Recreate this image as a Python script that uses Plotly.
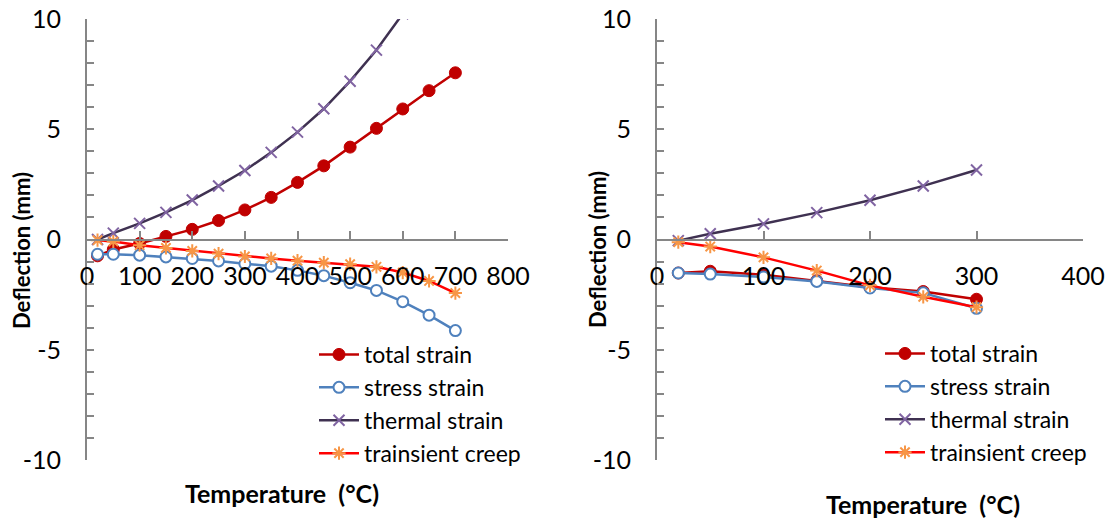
import plotly.graph_objects as go

# Temperatures (°C)
temp_a = [20, 50, 100, 150, 200, 250, 300, 350, 400, 450, 500, 550, 600, 650, 700]
temp_b = [20, 50, 100, 150, 200, 250, 300]

# Deflection (mm) - first case
total_a = [-0.74, -0.45, -0.18, 0.14, 0.46, 0.86, 1.34, 1.91, 2.59, 3.34, 4.19, 5.04, 5.92, 6.75, 7.56]
stress_a = [-0.67, -0.67, -0.71, -0.79, -0.86, -0.97, -1.10, -1.21, -1.40, -1.64, -1.96, -2.31, -2.82, -3.43, -4.13]
thermal_a = [0.0, 0.29, 0.73, 1.23, 1.79, 2.43, 3.13, 3.95, 4.87, 5.93, 7.18, 8.59, 10.24, 12.06, 14.10]
creep_a = [-0.03, -0.09, -0.26, -0.38, -0.52, -0.64, -0.77, -0.86, -0.96, -1.05, -1.12, -1.24, -1.50, -1.88, -2.43]

# Deflection (mm) - second case
total_b = [-1.52, -1.44, -1.60, -1.87, -2.17, -2.36, -2.71]
stress_b = [-1.52, -1.57, -1.70, -1.90, -2.20, -2.42, -3.12]
thermal_b = [-0.05, 0.26, 0.71, 1.22, 1.78, 2.43, 3.15]
creep_b = [-0.12, -0.32, -0.81, -1.41, -2.08, -2.60, -3.07]

series_names = ["total strain", "stress strain", "thermal strain", "trainsient creep"]
y_ticks = [-10, -5, 0, 5, 10]
y_tick_text = ["-10", "-5", "0", "5", "10"]

W, H = 1110, 519
FONT = "Lato, Carlito, Calibri, sans-serif"
AXIS_GREY = "#868686"

styles = [
    dict(line=dict(color="#C00000", width=2.5),
         marker=dict(symbol="circle", size=12, color="#C00000",
                     line=dict(color="#C00000", width=1))),
    dict(line=dict(color="#4F81BD", width=2.5),
         marker=dict(symbol="circle", size=11, color="white",
                     line=dict(color="#4F81BD", width=2))),
    dict(line=dict(color="#3F3151", width=2.5),
         marker=dict(symbol="x-thin-open", size=11, color="#8064A2",
                     line=dict(color="#8064A2", width=2))),
    dict(line=dict(color="#FF0000", width=2.5),
         marker=dict(symbol="asterisk-open", size=11, color="#F79646",
                     line=dict(color="#F79646", width=2))),
]

fig = go.Figure()

cases = [
    ("x", "y", "legend", temp_a, [total_a, stress_a, thermal_a, creep_a]),
    ("x2", "y2", "legend2", temp_b, [total_b, stress_b, thermal_b, creep_b]),
]
for xa, ya, lg, temps, values in cases:
    for name, vals, st in zip(series_names, values, styles):
        fig.add_trace(go.Scatter(
            x=temps, y=vals, name=name, mode="lines+markers",
            xaxis=xa, yaxis=ya, legend=lg,
            line=st["line"], marker=st["marker"], cliponaxis=True,
        ))


def px_x(p):
    return p / W


def px_y(p):
    return 1 - p / H


y_dom = [px_y(460), px_y(19)]
zero_pos = (y_dom[0] + y_dom[1]) / 2

common_x = dict(
    anchor="free", position=zero_pos, showline=True, linecolor=AXIS_GREY,
    linewidth=2, ticks="inside", ticklen=8, tickwidth=2, tickcolor=AXIS_GREY,
    dtick=100, tick0=0, showgrid=False, zeroline=False, automargin=False,
    tickfont=dict(family=FONT, size=25, color="black"),
    ticklabelstandoff=14,
)
common_y = dict(
    range=[-10, 10], domain=y_dom, showline=True, linecolor=AXIS_GREY,
    linewidth=2, ticks="inside", ticklen=7, tickwidth=2, tickcolor=AXIS_GREY,
    tickvals=y_ticks, ticktext=y_tick_text, showgrid=False, zeroline=False,
    automargin=False,
    minor=dict(dtick=1, ticks="inside", ticklen=7, tickwidth=2,
               tickcolor=AXIS_GREY, showgrid=False),
    tickfont=dict(family=FONT, size=25, color="black"),
    ticklabelstandoff=19,
)

legend_style = dict(xanchor="left", yanchor="top", bgcolor="rgba(0,0,0,0)",
                    font=dict(family=FONT, size=23), tracegroupgap=0,
                    itemwidth=40)

fig.update_layout(
    width=W, height=H,
    margin=dict(l=0, r=0, t=0, b=0, autoexpand=False),
    paper_bgcolor="white", plot_bgcolor="white",
    font=dict(family=FONT, size=24, color="black"),
    xaxis=dict(common_x, domain=[px_x(87), px_x(508)], range=[0, 800]),
    yaxis=dict(common_y, anchor="x"),
    xaxis2=dict(common_x, domain=[px_x(657), px_x(1083)], range=[0, 400]),
    yaxis2=dict(common_y, anchor="x2"),
    legend=dict(legend_style, x=px_x(314), y=px_y(333)),
    legend2=dict(legend_style, x=px_x(880), y=px_y(332)),
    showlegend=True,
)

title_font = dict(family=FONT, size=25, color="black", weight="bold")
annotations = [
    dict(text="Temperature  (°C)", x=px_x(282), y=px_y(493), font=title_font),
    dict(text="Temperature  (°C)", x=px_x(923), y=px_y(504), font=title_font),
    dict(text="Deflection (mm)", x=px_x(22), y=px_y(251), textangle=-90,
         font=dict(title_font, size=22)),
    dict(text="Deflection (mm)", x=px_x(598), y=px_y(250), textangle=-90,
         font=dict(title_font, size=22)),
]
for a in annotations:
    fig.add_annotation(xref="paper", yref="paper", showarrow=False,
                       xanchor="center", yanchor="middle", **a)

fig.write_html("out.html")
